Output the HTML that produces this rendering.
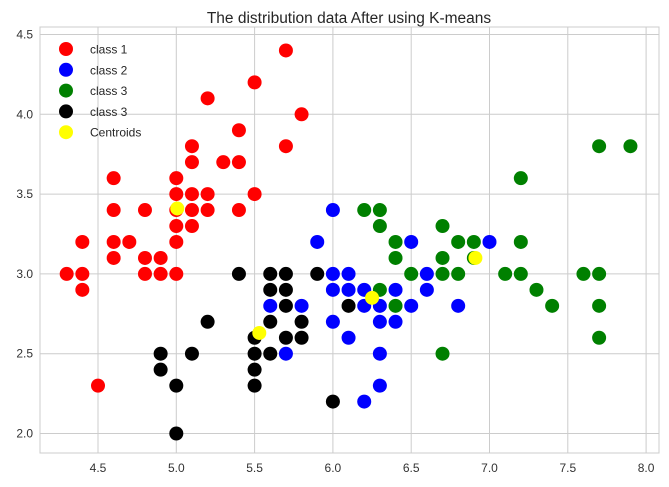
<!DOCTYPE html>
<html><head><meta charset="utf-8"><style>
html,body{margin:0;padding:0;background:#fff;}
svg{display:block;font-family:"Liberation Sans","DejaVu Sans",sans-serif;}
</style></head><body>
<svg id="chart" width="669" height="487" viewBox="0 0 669 487">
<text x="349" y="23" text-anchor="middle" font-size="15.5" fill="#262626">The distribution data After using K-means</text>
<g id="grid"></g>
<rect x="40" y="27" width="619" height="426" fill="none" stroke="#cccccc" stroke-width="1"/>
<g id="marks"></g>
<g id="legend"></g>
</svg>
<script>
const xTicks = [4.5, 5.0, 5.5, 6.0, 6.5, 7.0, 7.5, 8.0];
const yTicks = [2.0, 2.5, 3.0, 3.5, 4.0, 4.5];
const class1X = [5.7,5.5,5.2,5.8,5.4,5.7,5.1,5.1,5.3,5.4,4.6,5.0,5.0,5.1,5.2,5.5,4.6,4.8,5.0,5.1,5.2,5.4,5.0,5.1,4.4,4.6,4.7,5.0,4.6,4.8,4.9,4.3,4.4,4.8,4.9,5.0,4.4,4.5];
const class1Y = [4.4,4.2,4.1,4.0,3.9,3.8,3.8,3.7,3.7,3.7,3.6,3.6,3.5,3.5,3.5,3.5,3.4,3.4,3.4,3.4,3.4,3.4,3.3,3.3,3.2,3.2,3.2,3.2,3.1,3.1,3.1,3.0,3.0,3.0,3.0,3.0,2.9,2.3];
const class2X = [5.6,5.8,5.7,5.9,6.0,6.0,6.1,6.6,7.0,6.5,6.0,6.1,6.2,6.4,6.6,6.2,6.3,6.5,6.8,6.0,6.3,6.4,6.1,6.3,6.3,6.2];
const class2Y = [2.8,2.8,2.5,3.2,3.4,3.0,3.0,3.0,3.2,3.2,2.9,2.9,2.9,2.9,2.9,2.8,2.8,2.8,2.8,2.7,2.7,2.7,2.6,2.5,2.3,2.2];
const class3X = [6.2,6.3,6.3,6.7,6.4,6.8,6.9,7.2,6.4,6.7,6.9,6.5,6.7,6.8,7.1,7.2,6.3,7.3,6.4,7.4,6.7,7.2,7.7,7.9,7.6,7.7,7.7,7.7];
const class3Y = [3.4,3.4,3.3,3.3,3.2,3.2,3.2,3.2,3.1,3.1,3.1,3.0,3.0,3.0,3.0,3.0,2.9,2.9,2.8,2.8,2.5,3.6,3.8,3.8,3.0,3.0,2.8,2.6];
const class4X = [5.4,5.6,5.7,5.9,5.6,5.7,5.7,6.1,5.2,5.6,5.8,5.5,5.7,5.8,4.9,5.1,5.5,5.6,4.9,5.5,5.0,5.5,5.0,6.0];
const class4Y = [3.0,3.0,3.0,3.0,2.9,2.9,2.8,2.8,2.7,2.7,2.7,2.6,2.6,2.6,2.5,2.5,2.5,2.5,2.4,2.4,2.3,2.3,2.0,2.2];
const centroidX = [5.006, 5.53, 6.25, 6.91];
const centroidY = [3.41, 2.63, 2.85, 3.10];

const NS = "http://www.w3.org/2000/svg";
function sx(v){ return 98 + (v - 4.5) * 156.6; }
function sy(v){ return 433.5 - (v - 2.0) * 159.6; }
function mk(tag, attrs, parent){ const e=document.createElementNS(NS,tag); for(const k in attrs) e.setAttribute(k,attrs[k]); parent.appendChild(e); return e; }

const grid = document.getElementById('grid');
xTicks.forEach(t=>{
  const l = mk('line',{x1:sx(t),x2:sx(t),y1:27,y2:453,stroke:'#cccccc','stroke-width':1},grid);
  
  
  const tx = mk('text',{x:sx(t),y:472,'text-anchor':'middle','font-size':12,fill:'#333'},grid);
  tx.textContent = t.toFixed(1);
  
  
});
yTicks.forEach(t=>{
  const l = mk('line',{x1:40,x2:659,y1:sy(t),y2:sy(t),stroke:'#cccccc','stroke-width':1},grid);
  
  
  const tx = mk('text',{x:33,y:sy(t)+4,'text-anchor':'end','font-size':12,fill:'#333'},grid);
  tx.textContent = t.toFixed(1);
  
  
});

const marks = document.getElementById('marks');
function series(xs, ys, color, name){
  xs.forEach((x,i)=>{
    const c = mk('circle',{cx:sx(x),cy:sy(ys[i]),r:7,fill:color},marks);
    
    
  });
}
series(class1X,class1Y,'#ff0000','class-1-point');
series(class2X,class2Y,'#0000ff','class-2-point');
series(class3X,class3Y,'#008000','class-3-green-point');
series(class4X,class4Y,'#000000','class-3-black-point');
series(centroidX,centroidY,'#ffff00','centroid-point');

const legend = document.getElementById('legend');
const legendLabels = ['class 1','class 2','class 3','class 3','Centroids'];
const legendColors = ['#ff0000','#0000ff','#008000','#000000','#ffff00'];
legendLabels.forEach((lab,i)=>{
  const y = 49 + i*20.8;
  const c = mk('circle',{cx:66,cy:y,r:7,fill:legendColors[i]},legend);
  
  
  const t = mk('text',{x:90,y:y+4.5,'font-size':12,fill:'#262626'},legend);
  t.textContent = lab;
  
  
});
</script>
</body></html>
